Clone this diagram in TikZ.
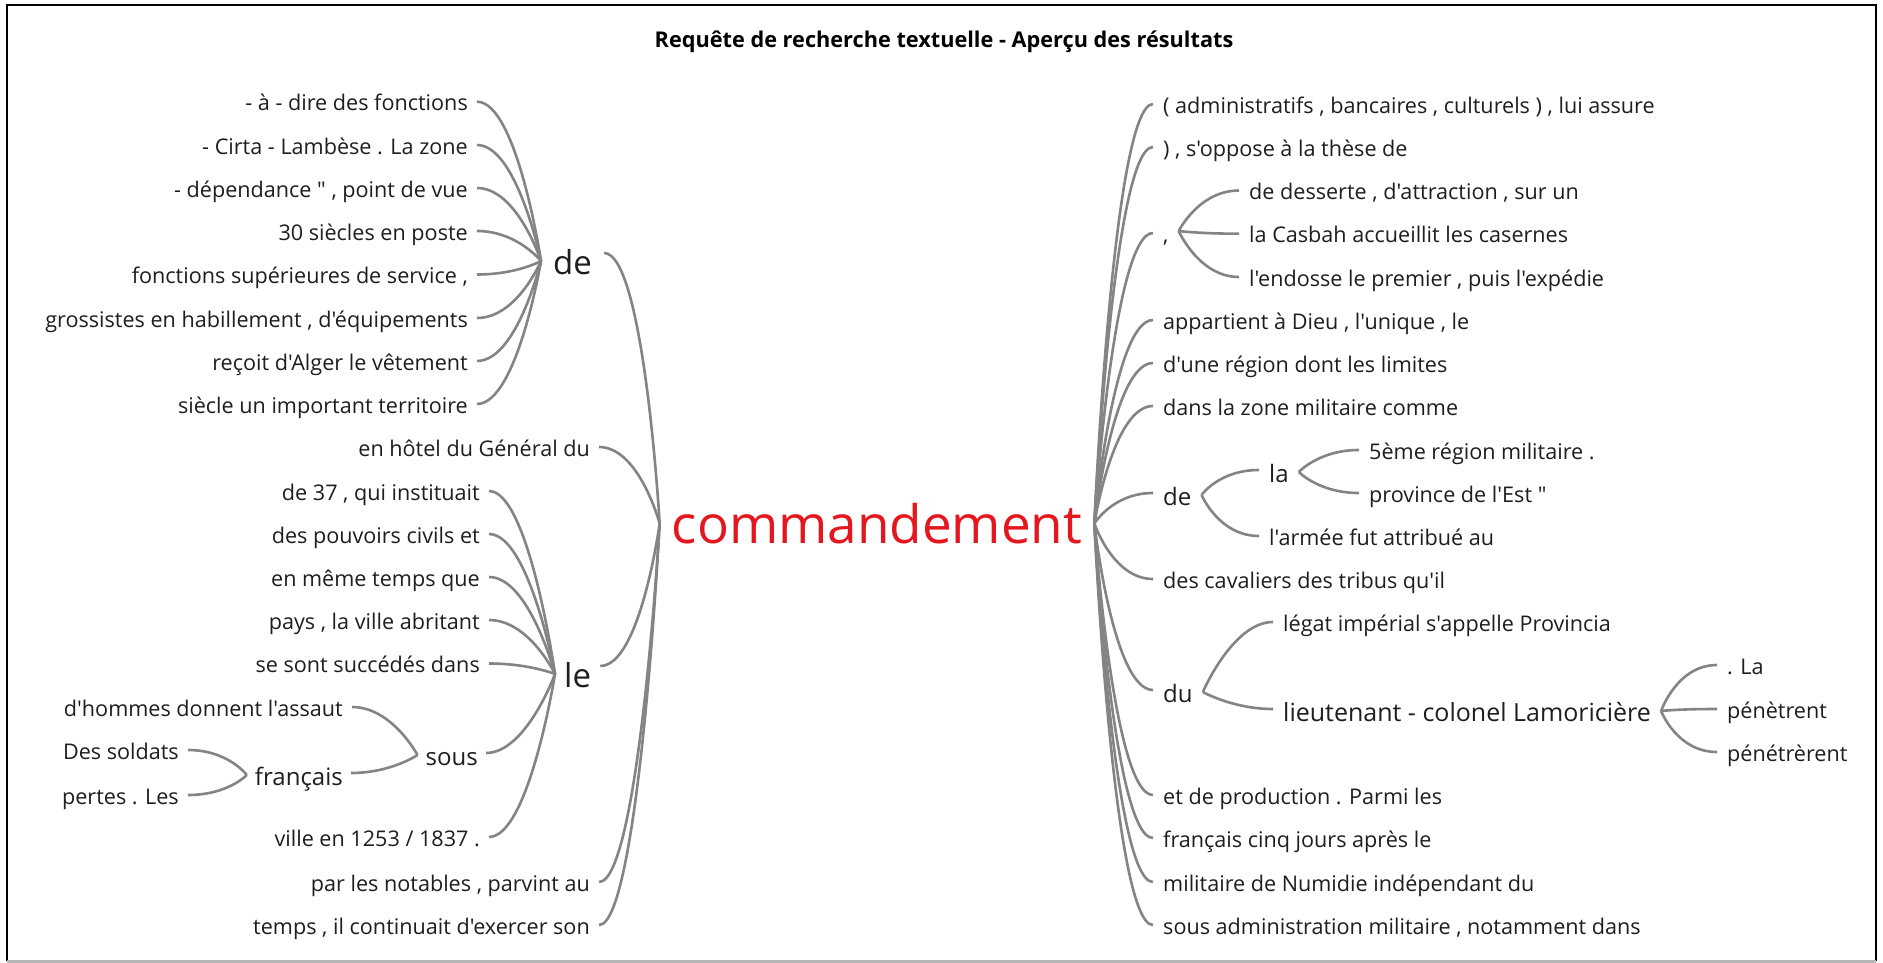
\documentclass[tikz,border=0pt]{standalone}
\usepackage{fontspec}
\setmainfont{Open Sans}[Ligatures=TeXOff]
\definecolor{lkc}{RGB}{132,132,132}
\definecolor{txt}{RGB}{30,30,30}
\definecolor{hubred}{RGB}{228,22,30}
\tikzset{
  lk/.style={draw=lkc, line width=2.6pt},
  nb/.style={text=txt, inner ysep=0pt, text height=12.2pt, text depth=2pt},
  fn/.style={font=\fontsize{21.6}{24}\selectfont},
  fm/.style={font=\fontsize{24}{27}\selectfont},
  fl/.style={font=\fontsize{33}{36}\selectfont, text height=24.2pt},
  lfL/.style={nb, fn, anchor=east, inner xsep=9pt},
  lfR/.style={nb, fn, anchor=west, inner xsep=10pt},
  mdL/.style={nb, anchor=east, inner xsep=8pt, text height=19.2pt},
  mdR/.style={nb, anchor=west, inner xsep=10pt, text height=19.2pt},
}
\newcommand\cL[2]{\draw[lk] (#1) .. controls +(40,0) and (#2) .. (#2);}
\newcommand\cR[2]{\draw[lk] (#1) .. controls +(-40,0) and (#2) .. (#2);}
\begin{document}
\begin{tikzpicture}[x=1pt,y=-1pt]
\useasboundingbox (0,0) rectangle (1883,963);
\fill[white] (0,0) rectangle (1883,963);
\draw[black, line width=1.5pt] (7,961) -- (7,5) -- (1876,5) -- (1876,961);
\draw[lkc!60, line width=3pt] (7,961) -- (1876,961);

\node[text=black, font=\bfseries\fontsize{21.7}{24}\selectfont] (title) at (944,42) {Requête de recherche textuelle - Aperçu des résultats};

% hub
\node[text=hubred, inner xsep=12pt, inner ysep=0pt, font=\fontsize{53}{60}\selectfont] (hub) at (877,523.5) {commandement};

% ---------- left: de ----------
\node[nb, fl, anchor=west, inner xsep=12pt] (deL) at (541,263) {de};
\node[lfL] (a1) at (477,105.7) {- à - dire des fonctions};
\node[lfL] (a2) at (477,149) {- Cirta - Lambèse . La zone};
\node[lfL] (a3) at (477,192) {- dépendance " , point de vue};
\node[lfL] (a4) at (477,235) {30 siècles en poste};
\node[lfL] (a5) at (477,278.5) {fonctions supérieures de service ,};
\node[lfL] (a6) at (477,322) {grossistes en habillement , d'équipements};
\node[lfL] (a7) at (477,365) {reçoit d'Alger le vêtement};
\node[lfL] (a8) at (477,408) {siècle un important territoire};
\foreach \n in {a1,a2,a3,a4,a5,a6,a7,a8}{\cL{[yshift=4pt]\n.east}{[yshift=2pt]deL.west}}
\cL{[yshift=10pt]deL.east}{hub.west}

\node[lfL] (b1) at (599,451) {en hôtel du Général du};
\cL{[yshift=4pt]b1.east}{hub.west}

% ---------- left: le ----------
\node[nb, fl, anchor=west, inner xsep=9pt] (leL) at (555,676) {le};
\node[lfL] (c1) at (489,495) {de 37 , qui instituait};
\node[lfL] (c2) at (489,538) {des pouvoirs civils et};
\node[lfL] (c3) at (489,581) {en même temps que};
\node[lfL] (c4) at (489,624) {pays , la ville abritant};
\node[lfL] (c5) at (489,667.5) {se sont succédés dans};
\node[mdL, fm] (sous) at (486,757) {sous};
\node[lfL] (s1) at (352,711) {d'hommes donnent l'assaut};
\node[mdL, fm] (fr) at (351,777) {français};
\node[lfL] (f1) at (188,754) {Des soldats};
\node[lfL] (f2) at (188,799) {pertes . Les};
\node[lfL] (c6) at (489,841) {ville en 1253 / 1837 .};
\foreach \n in {c1,c2,c3,c4,c5,c6}{\cL{[yshift=4pt]\n.east}{[yshift=2pt]leL.west}}
\cL{[yshift=4pt]sous.east}{[yshift=2pt]leL.west}
\cL{[yshift=4pt]s1.east}{[yshift=2pt]sous.west}
\cL{[yshift=4pt]fr.east}{[yshift=2pt]sous.west}
\cL{[yshift=4pt]f1.east}{[yshift=2pt]fr.west}
\cL{[yshift=4pt]f2.east}{[yshift=2pt]fr.west}
\cL{[yshift=10pt]leL.east}{hub.west}

\node[lfL] (d1) at (599,886) {par les notables , parvint au};
\node[lfL] (d2) at (599,929) {temps , il continuait d'exercer son};
\cL{[yshift=4pt]d1.east}{hub.west}
\cL{[yshift=4pt]d2.east}{hub.west}

% ---------- right ----------
\node[lfR] (r1) at (1153,108) {( administratifs , bancaires , culturels ) , lui assure};
\node[lfR] (r2) at (1153,151) {) , s'oppose à la thèse de};
\node[lfR] (rc) at (1153,237) {,};
\node[lfR] (rc1) at (1239,194.5) {de desserte , d'attraction , sur un};
\node[lfR] (rc2) at (1239,237.7) {la Casbah accueillit les casernes};
\node[lfR] (rc3) at (1239,281) {l'endosse le premier , puis l'expédie};
\node[lfR] (r3) at (1153,324) {appartient à Dieu , l'unique , le};
\node[lfR] (r4) at (1153,367) {d'une région dont les limites};
\node[lfR] (r5) at (1153,410) {dans la zone militaire comme};
\node[mdR, fm] (rde) at (1153,497) {de};
\node[mdR, fm] (rla) at (1259,474) {la};
\node[lfR] (rla1) at (1359,454) {5ème région militaire .};
\node[lfR] (rla2) at (1359,497) {province de l'Est "};
\node[lfR] (rde2) at (1259,540) {l'armée fut attribué au};
\node[lfR] (r6) at (1153,583) {des cavaliers des tribus qu'il};
\node[mdR, fm] (rdu) at (1153,694) {du};
\node[lfR] (rdu1) at (1273,626) {légat impérial s'appelle Provincia};
\node[mdR, font=\fontsize{25}{28}\selectfont] (rlt) at (1273,713) {lieutenant - colonel Lamoricière};
\node[lfR] (rlt1) at (1717,669) {. La};
\node[lfR] (rlt2) at (1717,713) {pénètrent};
\node[lfR] (rlt3) at (1717,756) {pénétrèrent};
\node[lfR] (r7) at (1153,799) {et de production . Parmi les};
\node[lfR] (r8) at (1153,842) {français cinq jours après le};
\node[lfR] (r9) at (1153,886) {militaire de Numidie indépendant du};
\node[lfR] (r10) at (1153,929) {sous administration militaire , notamment dans};

\foreach \n in {r1,r2,rc,r3,r4,r5,rde,r6,rdu,r7,r8,r9,r10}{\cR{[yshift=4pt]\n.west}{hub.east}}
\foreach \n in {rc1,rc2,rc3}{\cR{[yshift=4pt]\n.west}{[yshift=6pt]rc.east}}
\foreach \n in {rla,rde2}{\cR{[yshift=4pt]\n.west}{[yshift=2pt]rde.east}}
\foreach \n in {rla1,rla2}{\cR{[yshift=4pt]\n.west}{[yshift=2pt]rla.east}}
\foreach \n in {rdu1,rlt}{\cR{[yshift=4pt]\n.west}{[yshift=2pt]rdu.east}}
\foreach \n in {rlt1,rlt2,rlt3}{\cR{[yshift=4pt]\n.west}{[yshift=2pt]rlt.east}}
\end{tikzpicture}
\end{document}
